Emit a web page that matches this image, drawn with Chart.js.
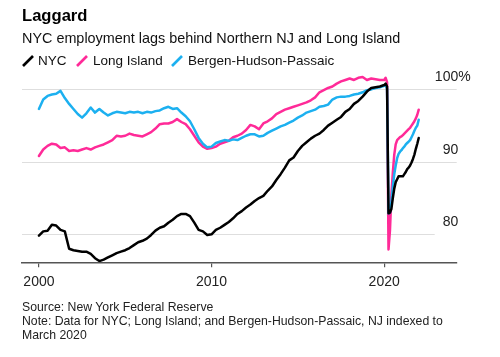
<!DOCTYPE html>
<html>
<head>
<meta charset="utf-8">
<script src="https://cdn.jsdelivr.net/npm/chart.js@4"></script>
<style>
  html, body { margin: 0; padding: 0; background: #fff; }
  body { width: 500px; height: 357px; position: relative; overflow: hidden;
         font-family: "Liberation Sans", Arial, Helvetica, sans-serif; color: #111; }
  #c { position: absolute; left: 0; top: 0; }
  .t { position: absolute; white-space: nowrap; }
  #title { left: 22px; top: 6px; font-size: 16.6px; font-weight: bold; line-height: 20px; color: #000; }
  #sub { left: 22px; top: 29px; font-size: 14.4px; line-height: 18px; color: #111; }
  .lg { top: 52px; font-size: 13.5px; line-height: 18px; color: #111; }
  .sl { position: absolute; top: 55px; }
  #foot { left: 22px; top: 300px; font-size: 12.25px; line-height: 14.2px; color: #222; }
</style>
</head>
<body>
<canvas id="c" width="500" height="357"></canvas>
<div class="t" id="title">Laggard</div>
<div class="t" id="sub">NYC employment lags behind Northern NJ and Long Island</div>
<svg class="sl" style="left:22px" width="12" height="12"><line x1="1" y1="11" x2="11" y2="1" stroke="#000" stroke-width="2.7"/></svg>
<div class="t lg" style="left:38px">NYC</div>
<svg class="sl" style="left:76px" width="12" height="12"><line x1="1" y1="11" x2="11" y2="1" stroke="#ff2a98" stroke-width="2.7"/></svg>
<div class="t lg" style="left:93px">Long Island</div>
<svg class="sl" style="left:171px" width="12" height="12"><line x1="1" y1="11" x2="11" y2="1" stroke="#1cb0f0" stroke-width="2.7"/></svg>
<div class="t lg" style="left:188px">Bergen-Hudson-Passaic</div>
<div class="t" id="foot">Source: New York Federal Reserve<br>Note: Data for NYC; Long Island; and Bergen-Hudson-Passaic, NJ indexed to<br>March 2020</div>
<script>
// ---- data ----
const seriesNames = ["NYC", "Long Island", "Bergen-Hudson-Passaic"];
const seriesColors = ["#000000", "#ff2a98", "#1cb0f0"];
const xTicks = [2000, 2010, 2020];
const yGridValues = [80, 90, 100];
const yTickLabels = ["80", "90", "100"];

// dates: quarterly 2000 Q1 .. 2019 Q4, then monthly Jan 2020 .. Jan 2022
const dates = [];
for (let yr = 2000; yr < 2020; yr++) for (let q = 0; q < 4; q++) dates.push(yr + q * 0.25);
for (let m = 0; m <= 24; m++) dates.push(2020 + m / 12);

const longIsland = [
  90.8, 91.7, 92.2, 92.5,  92.4, 91.9, 92.0, 91.5,  91.6, 91.5, 91.7, 91.9,  91.7, 92.0, 92.2, 92.4,
  92.7, 93.0, 93.6, 93.5,  93.6, 93.9, 93.7, 93.6,  93.5, 93.8, 94.1, 94.6,  95.2, 95.3, 95.3, 95.5,
  95.9, 95.5, 95.2, 94.5,  93.6, 92.7, 92.1, 91.8,  91.9, 92.1, 92.5, 92.7,  92.9, 93.4, 93.6, 93.9,
  94.4, 95.1, 94.9, 94.5,  95.3, 95.6, 96.0, 96.6,  96.9, 97.2, 97.4, 97.6,  97.8, 98.0, 98.2, 98.5,
  98.9, 99.6, 99.9, 100.2, 100.4, 100.8, 101.1, 101.3, 101.5, 101.3, 101.6, 101.7, 101.3, 101.5, 101.4, 101.3,
  101.3, 101.6, 101.0, 77.9, 80.5, 85.5, 88.5, 91.0, 92.4, 93.0, 93.2, 93.4,
  93.5, 93.7, 93.9, 94.1, 94.3, 94.5, 94.7, 95.0, 95.3, 95.6, 96.0, 96.5, 97.2
];
const bergenHudsonPassaic = [
  97.3, 98.6, 99.1, 99.3,  99.4, 99.8, 98.8, 98.0,  97.3, 96.6, 96.1, 96.7,  97.5, 96.8, 97.3, 96.8,
  96.4, 96.7, 96.9, 96.8,  96.7, 96.9, 96.8, 96.9,  96.7, 96.9, 96.8, 97.0,  97.1, 97.4, 97.6, 97.3,
  97.4, 96.8, 96.3, 95.6,  94.5, 93.3, 92.5, 92.0,  92.1, 92.6, 92.8, 93.0,  92.9, 93.1, 93.0, 93.3,
  93.6, 93.8, 93.8, 93.5,  93.6, 94.0, 94.3, 94.6,  94.9, 95.1, 95.4, 95.7,  96.1, 96.4, 96.8, 97.0,
  97.2, 97.6, 97.7, 97.9,  98.6, 98.9, 99.0, 99.0,  99.1, 99.3, 99.4, 99.6,  99.9, 100.0, 100.2, 100.3,
  100.5, 100.6, 100.1, 82.9, 83.0, 84.5, 86.5, 88.3, 89.5, 90.5, 91.1, 91.4,
  91.6, 91.9, 92.1, 92.4, 92.6, 92.8, 93.0, 93.4, 93.8, 94.3, 94.7, 95.0, 95.8
];
const nyc = [
  79.8, 80.4, 80.5, 81.3,  81.2, 80.6, 80.4, 78.0,  77.8, 77.7, 77.6, 77.6,  77.3, 76.7, 76.3, 76.5,
  76.8, 77.1, 77.4, 77.6,  77.8, 78.1, 78.5, 78.9,  79.1, 79.4, 79.9, 80.5,  80.9, 81.1, 81.6, 82.0,
  82.5, 82.8, 82.8, 82.5,  81.6, 80.6, 80.4, 79.9,  80.0, 80.6, 80.9, 81.3,  81.7, 82.2, 82.8, 83.2,
  83.7, 84.1, 84.6, 85.0,  85.3, 86.0, 86.6, 87.5,  88.3, 89.2, 90.2, 90.6,  91.5, 92.2, 92.7, 93.2,
  93.6, 93.9, 94.4, 95.0,  95.4, 95.8, 96.2, 96.9,  97.3, 98.0, 98.4, 99.0,  99.7, 100.2, 100.3, 100.4,
  100.6, 100.8, 100.4, 82.9, 83.0, 83.5, 85.0, 86.3, 87.2, 87.6, 88.0, 88.0,
  88.0, 88.0, 88.3, 88.6, 89.0, 89.2, 89.5, 89.9, 90.4, 91.0, 91.8, 92.5, 93.3
];

// ---- chart ----
const FONT = '"Liberation Sans", Arial, Helvetica, sans-serif';
const toPts = vals => vals.map((v, i) => ({ x: dates[i], y: v }));
const mk = (idx, vals) => ({
  label: seriesNames[idx], data: toPts(vals), borderColor: seriesColors[idx],
  backgroundColor: seriesColors[idx], borderWidth: 2.5, pointRadius: 0, tension: 0,
  borderJoinStyle: 'round', borderCapStyle: 'round', fill: false
});

const gridAndLabels = {
  id: 'gridAndLabels',
  beforeDatasetsDraw(chart) {
    const { ctx, chartArea, scales } = chart;
    ctx.save();
    ctx.strokeStyle = '#dedede';
    ctx.lineWidth = 1.2;
    yGridValues.forEach((v, i) => {
      const y = Math.round(scales.y.getPixelForValue(v)) + 0.5;
      const right = i === 0 ? chartArea.right - 22 : chartArea.right;
      ctx.beginPath(); ctx.moveTo(chartArea.left, y); ctx.lineTo(right, y); ctx.stroke();
    });
    ctx.restore();
  },
  afterDraw(chart) {
    const { ctx, chartArea, scales } = chart;
    ctx.save();
    ctx.font = '14px ' + FONT;
    ctx.fillStyle = '#222';
    ctx.textBaseline = 'middle';
    yGridValues.forEach((v, i) => {
      const y = scales.y.getPixelForValue(v) - 12;
      const x = chartArea.right + 1.5;
      ctx.textAlign = 'right';
      ctx.fillText(yTickLabels[i], x, y);
      if (i === yGridValues.length - 1) { ctx.textAlign = 'left'; ctx.fillText('%', x, y); }
    });
    ctx.restore();
  }
};

new Chart(document.getElementById('c'), {
  type: 'line',
  data: { datasets: [mk(0, nyc), mk(2, bergenHudsonPassaic), mk(1, longIsland)] },
  options: {
    responsive: false, animation: false, devicePixelRatio: 1,
    layout: { padding: { left: 22, right: 43.3, top: 71, bottom: 54.7 } },
    plugins: { legend: { display: false }, tooltip: { enabled: false } },
    scales: {
      x: {
        type: 'linear', position: 'bottom', min: 1999.02, max: 2024.2,
        afterBuildTicks: s => { s.ticks = xTicks.map(v => ({ value: v })); },
        afterFit: s => { s.height = 40; },
        grid: { drawOnChartArea: false, drawTicks: true, tickLength: 5, color: '#555', lineWidth: 1.2 },
        border: { display: true, color: '#555', width: 1.5 },
        ticks: { font: { size: 14, family: FONT }, color: '#222', padding: 6, maxRotation: 0,
                 autoSkip: false, callback: v => String(v) }
      },
      y: { type: 'linear', display: false, min: 76.13, max: 102.54 }
    }
  },
  plugins: [gridAndLabels]
});
</script>
</body>
</html>
